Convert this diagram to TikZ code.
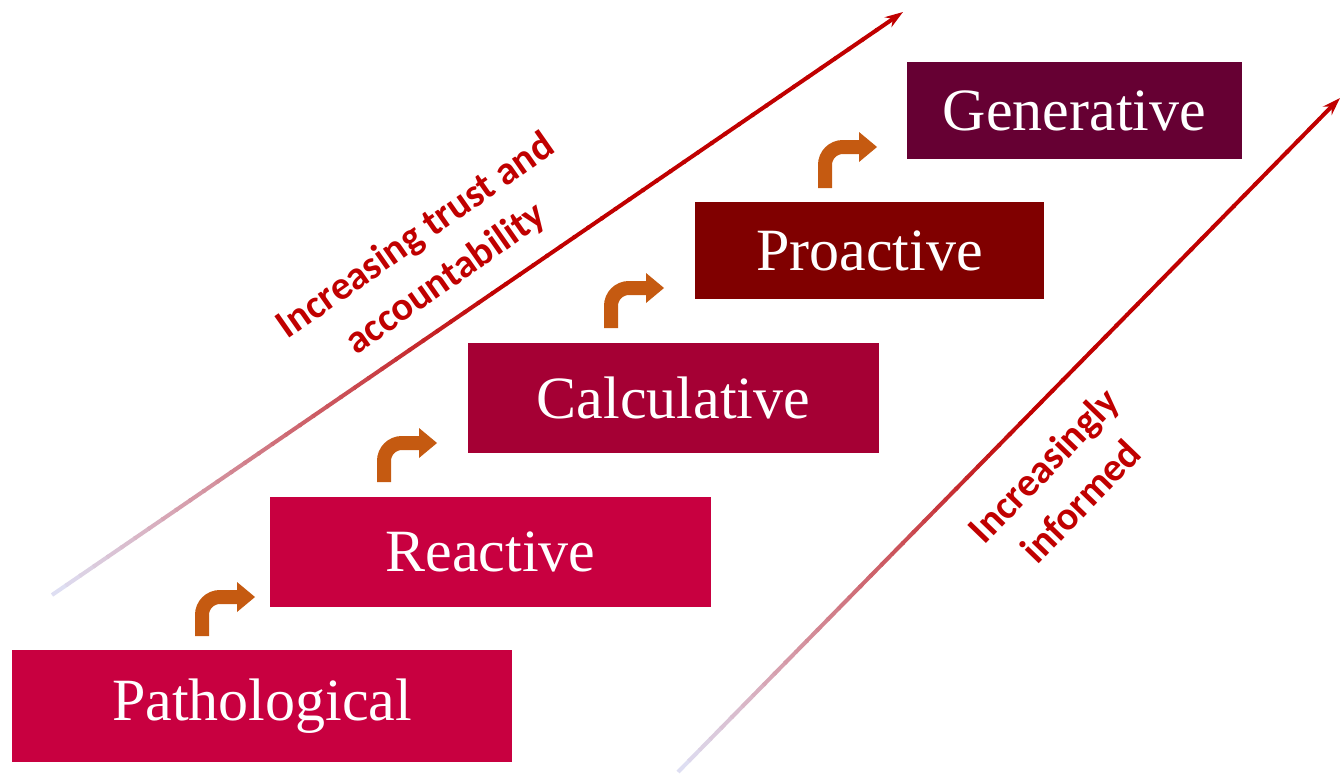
\documentclass[tikz,border=0pt]{standalone}
\usepackage{fontspec}
\setmainfont{Liberation Serif}
\newfontfamily\labfont{Carlito}
\usetikzlibrary{calc,arrows.meta}
\definecolor{boxA}{RGB}{200,0,64}
\definecolor{boxB}{RGB}{200,0,64}
\definecolor{boxC}{RGB}{165,0,52}
\definecolor{boxD}{RGB}{128,0,0}
\definecolor{boxE}{RGB}{102,0,51}
\definecolor{bend}{RGB}{197,90,17}
\definecolor{darkred}{RGB}{192,0,0}
\definecolor{lav}{RGB}{222,222,242}
\tikzset{
  stage/.style={fill=#1, draw=none, text=white, inner sep=0pt,
    font=\fontsize{60}{60}\selectfont},
  bendarrow/.style={draw=bend, line width=14pt},
  bendhead/.style={fill=bend, draw=none},
  trendlabel/.style={text=darkred, align=center, inner sep=0pt,
    font=\labfont\bfseries\fontsize{40}{52}\selectfont}
}
\begin{document}
\begin{tikzpicture}[x=1pt,y=-1pt]
\useasboundingbox (0,0) rectangle (1342,776);
% stage boxes
\node[stage=boxA, minimum width=500pt, minimum height=112pt] (path) at (262,706) {Pathological};
\node[stage=boxB, minimum width=441pt, minimum height=110pt] (reac) at (490.5,552) {Reactive};
\node[stage=boxC, minimum width=411pt, minimum height=110pt] (calc) at (673.5,398) {Calculative};
\node[stage=boxD, minimum width=349pt, minimum height=97pt] (proa) at (869.5,250.5) {Proactive};
\node[stage=boxE, minimum width=335pt, minimum height=97pt] (gene) at (1074.5,110.5) {Generative};
% bent arrows
\foreach \n/\sx/\by/\tx/\ty in {1/202/636/255/597, 2/384/482/437/443, 3/611/328/664/288, 4/825/188/877/147}{
  \coordinate (s\n) at (\sx,\by);
  \coordinate (t\n) at (\tx,\ty);
  \draw[bendarrow] (s\n) -- ($(s\n |- t\n)+(0,18)$) .. controls ($(s\n |- t\n)+(0,8)$) and ($(s\n |- t\n)+(8,0)$) .. ($(s\n |- t\n)+(18,0)$) -- ($(t\n)+(-17,0)$);
  \fill[bendhead] (t\n) -- ($(t\n)+(-18,-15)$) -- ($(t\n)+(-18,15)$) -- cycle;
}
% long gradient arrows
\coordinate (u0) at (52,595);
\coordinate (u1) at (903,12);
\coordinate (v0) at (678,772);
\coordinate (v1) at (1340,98);
\foreach \a/\b in {u0/u1, v0/v1}{
  \foreach \i in {0,...,59}{
    \pgfmathtruncatemacro\p{min(100,\i*100/32)}
    \draw[line width=4pt, draw=darkred!\p!lav] ($(\a)!\i/62!(\b)$) -- ($(\a)!\i/62+1/62+0.002!(\b)$);
  }
  \draw[line width=4pt, draw=darkred, -{Stealth[length=18pt,width=12pt]}] ($(\a)!60/62!(\b)$) -- (\b);
}
% labels
\node[trendlabel, rotate=35] (trust) at (431,258) {Increasing trust and\\accountability};
\node[trendlabel, rotate=46] (inform) at (1062,483) {Increasingly\\informed};
\end{tikzpicture}
\end{document}
